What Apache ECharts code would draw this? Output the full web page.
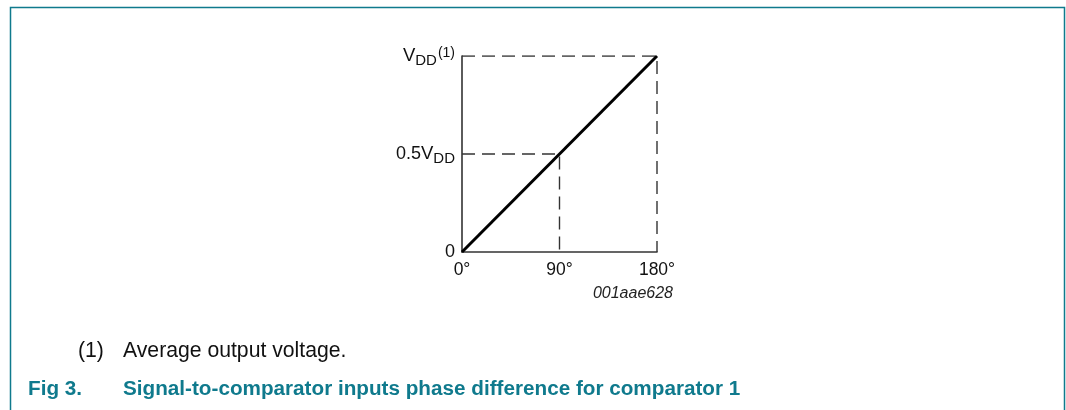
<!DOCTYPE html>
<html><head><meta charset="utf-8">
<script src="https://cdn.jsdelivr.net/npm/echarts@6/dist/echarts.min.js"></script>
<style>html,body{margin:0;padding:0;background:#fff}#c{width:1066px;height:410px}</style>
</head><body><div id="c"></div>
<script>
// Data
const phaseDeg = [0, 90, 180];          // x: phase difference (degrees)
const avgVoltage = [0, 0.5, 1];          // y: fraction of VDD
const xTickLabels = ['0°', '90°', '180°'];
const yTickLabels = ['0', '0.5{v|V}{sub|DD}', '{v|V}{sub|DD}{sup|(1)}'];
const footnote = ['(1)', 'Average output voltage.'];
const figTitle = ['Fig 3.', 'Signal-to-comparator inputs phase difference for comparator 1'];
const figCode = '001aae628';

const teal = '#0f7a8d';
const font = '"Liberation Sans", Arial, sans-serif';
const mainLine = phaseDeg.map((x, i) => [x, avgVoltage[i]]);
const dashTop = [[phaseDeg[0], avgVoltage[2]], [phaseDeg[2], avgVoltage[2]], [phaseDeg[2], avgVoltage[0]]];
const dashMid = [[phaseDeg[0], avgVoltage[1]], [phaseDeg[1], avgVoltage[1]], [phaseDeg[1], avgVoltage[0]]];

const chart = echarts.init(document.getElementById('c'), null, {renderer: 'canvas'});
const dashStyle = {color: '#333', width: 1.4, type: [13, 7]};
chart.setOption({
  animation: false,
  grid: {left: 462, top: 56, width: 195, height: 196},
  xAxis: {
    type: 'value', min: 0, max: 180, interval: 90,
    axisLine: {show: true, lineStyle: {color: '#333', width: 1.6}},
    axisTick: {show: false}, splitLine: {show: false},
    axisLabel: {margin: 9, color: '#111', fontFamily: font, fontSize: 17.5,
      formatter: v => xTickLabels[phaseDeg.indexOf(v)]}
  },
  yAxis: {
    type: 'value', min: 0, max: 1, interval: 0.5,
    axisLine: {show: true, lineStyle: {color: '#333', width: 1.6}},
    axisTick: {show: false}, splitLine: {show: false},
    axisLabel: {margin: 7, color: '#111', fontFamily: font, fontSize: 18,
      formatter: v => yTickLabels[avgVoltage.indexOf(v)],
      rich: {
        v: {fontFamily: font, fontSize: 18.5, color: '#111'},
        sub: {fontFamily: font, fontSize: 15, color: '#111', padding: [9, 0, 0, 0]},
        sup: {fontFamily: font, fontSize: 14, color: '#111', padding: [0, 0, 6, 1]}
      }}
  },
  series: [
    {type: 'line', data: dashTop, symbol: 'none', lineStyle: dashStyle, z: 1},
    {type: 'line', data: dashMid, symbol: 'none', lineStyle: dashStyle, z: 1},
    {type: 'line', data: [mainLine[0], mainLine[2]], symbol: 'none', lineStyle: {color: '#000', width: 3}, z: 3}
  ],
  graphic: [
    {type: 'polyline', shape: {points: [[10.5, 412], [10.5, 7.5], [1064.5, 7.5], [1064.5, 412]]},
      style: {stroke: teal, lineWidth: 1.5, fill: null}},
    {type: 'text', x: 673, y: 294, style: {text: figCode, font: 'italic 16px ' + font, fill: '#222', align: 'right', verticalAlign: 'middle'}},
    {type: 'text', x: 78, y: 351, style: {text: footnote[0], font: '21.2px ' + font, fill: '#111', verticalAlign: 'middle'}},
    {type: 'text', x: 123, y: 351, style: {text: footnote[1], font: '21.2px ' + font, fill: '#111', verticalAlign: 'middle'}},
    {type: 'text', x: 28, y: 389, style: {text: figTitle[0], font: 'bold 20.7px ' + font, fill: teal, verticalAlign: 'middle'}},
    {type: 'text', x: 123, y: 389, style: {text: figTitle[1], font: 'bold 20.7px ' + font, fill: teal, verticalAlign: 'middle'}}
  ]
});
</script></body></html>
